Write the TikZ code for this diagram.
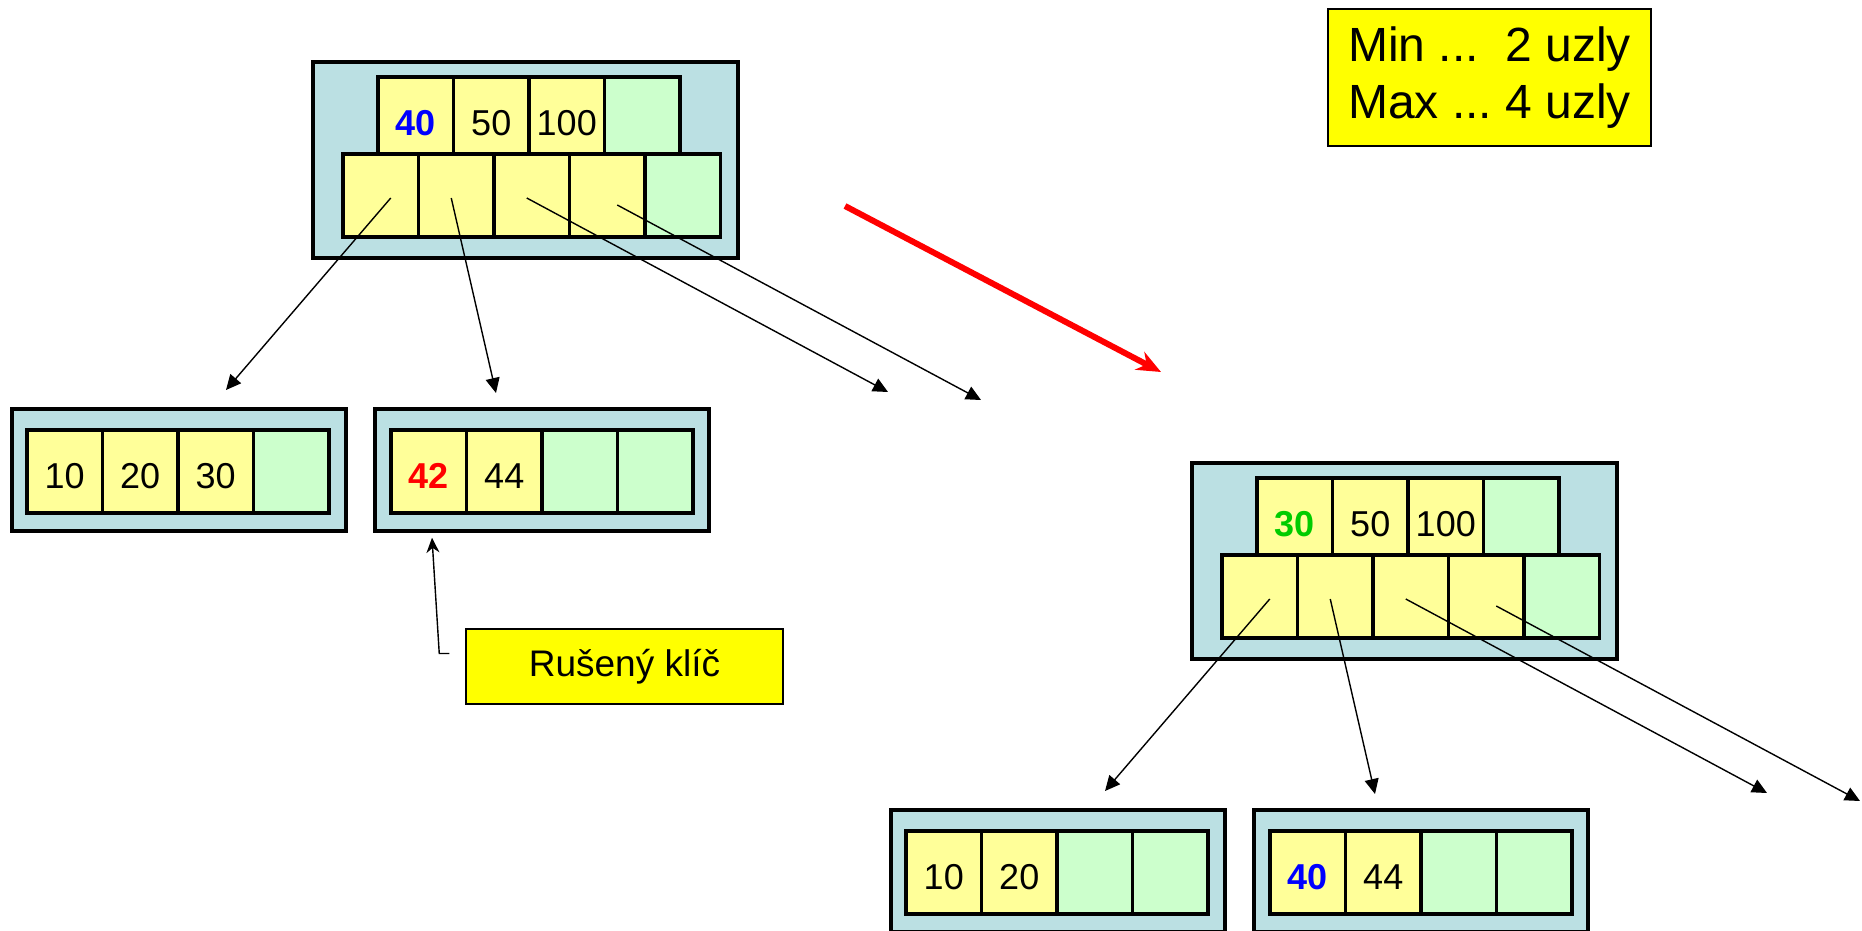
\documentclass[tikz,border=0pt]{standalone}
\usepackage{fontspec}
\setmainfont{Liberation Sans}
\usetikzlibrary{arrows.meta,positioning}
\definecolor{nodeblue}{RGB}{187,224,227}
\definecolor{cellyellow}{RGB}{255,255,153}
\definecolor{cellgreen}{RGB}{204,255,204}
\definecolor{noteyellow}{RGB}{255,255,0}
\definecolor{keyblue}{RGB}{0,0,255}
\definecolor{keyred}{RGB}{255,0,0}
\definecolor{keygreen}{RGB}{0,204,0}
\frenchspacing

\begin{document}
\begin{tikzpicture}[x=0.5pt, y=-0.5pt, font=\fontsize{18}{21}\selectfont,
	treebox/.style={draw, line width=1.75pt, fill=nodeblue, minimum width=212.5pt, minimum height=98pt},
	leafbox/.style={draw, line width=1.75pt, fill=nodeblue, minimum width=167pt, minimum height=61pt},
	cell/.style={draw, line width=1.65pt, fill=cellyellow, inner sep=0pt, outer sep=0pt, minimum width=37.75pt, minimum height=41.5pt, text height=17pt, text depth=0pt},
	keycell/.style={cell, minimum height=38.5pt, text height=20pt},
	free/.style={fill=cellgreen},
	child/.style={-{Triangle[length=7.5pt, width=7pt]}, line width=0.7pt},
	note/.style={draw, line width=0.75pt, fill=noteyellow}]
	\useasboundingbox (0,0) rectangle (1862,931);
	
	% before
	\node[treebox] (aroot) at (525.5,160) {};
	\node[keycell] (ak1) at (415.75,115.5) {\textcolor{keyblue}{\textbf{40}}};
	\node[keycell, right=0pt of ak1] (ak2) {50};
	\node[keycell, right=0pt of ak2] (ak3) {100};
	\node[keycell, free, right=0pt of ak3] (ak4) {};
	\node[cell] (ap1) at (380.75,195.5) {};
	\node[cell, right=0pt of ap1] (ap2) {};
	\node[cell, right=0pt of ap2] (ap3) {};
	\node[cell, right=0pt of ap3] (ap4) {};
	\node[cell, free, right=0pt of ap4] (ap5) {};
	
	\node[leafbox] (aleft) at (179,470) {};
	\node[cell] (al1) at (64.75,471.5) {10};
	\node[cell, right=0pt of al1] (al2) {20};
	\node[cell, right=0pt of al2] (al3) {30};
	\node[cell, free, right=0pt of al3] (al4) {};
	
	\node[leafbox] (aright) at (542,470) {};
	\node[cell] (ar1) at (428.75,471.5) {\textcolor{keyred}{\textbf{42}}};
	\node[cell, right=0pt of ar1] (ar2) {44};
	\node[cell, free, right=0pt of ar2] (ar3) {};
	\node[cell, free, right=0pt of ar3] (ar4) {};
	
	\coordinate (ae1) at (226,390);
	\coordinate (ae2) at (496,393);
	\coordinate (ae3) at (888,392);
	\coordinate (ae4) at (981,400);
	\draw[child] ([shift={(10,2.5)}]ap1.center) -- (ae1);
	\draw[child] ([shift={(-5,2.5)}]ap2.center) -- (ae2);
	\draw[child] ([shift={(-5,2.5)}]ap3.center) -- (ae3);
	\draw[child] ([shift={(10,9.5)}]ap4.center) -- (ae4);
	
	\node[note, minimum width=158.5pt, minimum height=37.5pt, font=\fontsize{18.5}{22}\selectfont] (deleted) at (624.5,666.5) {Rušený klíč};
	\draw[-{Stealth[length=7.5pt, width=6.5pt]}, line width=0.7pt] ([shift={(-16,-13)}]deleted.west) -- ++(-10,0) -- ([shift={(-110,5)}]aright.south);
	
	% after
	\begin{scope}[shift={(879,401)}]
	\node[treebox] (broot) at (525.5,160) {};
	\node[keycell] (bk1) at (415.75,115.5) {\textcolor{keygreen}{\textbf{30}}};
	\node[keycell, right=0pt of bk1] (bk2) {50};
	\node[keycell, right=0pt of bk2] (bk3) {100};
	\node[keycell, free, right=0pt of bk3] (bk4) {};
	\node[cell] (bp1) at (380.75,195.5) {};
	\node[cell, right=0pt of bp1] (bp2) {};
	\node[cell, right=0pt of bp2] (bp3) {};
	\node[cell, right=0pt of bp3] (bp4) {};
	\node[cell, free, right=0pt of bp4] (bp5) {};
	
	\node[leafbox] (bleft) at (179,470) {};
	\node[cell] (bl1) at (64.75,471.5) {10};
	\node[cell, right=0pt of bl1] (bl2) {20};
	\node[cell, free, right=0pt of bl2] (bl3) {};
	\node[cell, free, right=0pt of bl3] (bl4) {};
	
	\node[leafbox] (bright) at (542,470) {};
	\node[cell] (br1) at (428.75,471.5) {\textcolor{keyblue}{\textbf{40}}};
	\node[cell, right=0pt of br1] (br2) {44};
	\node[cell, free, right=0pt of br2] (br3) {};
	\node[cell, free, right=0pt of br3] (br4) {};
	
	\coordinate (be1) at (226,390);
	\coordinate (be2) at (496,393);
	\coordinate (be3) at (888,392);
	\coordinate (be4) at (981,400);
	\draw[child] ([shift={(10,2.5)}]bp1.center) -- (be1);
	\draw[child] ([shift={(-5,2.5)}]bp2.center) -- (be2);
	\draw[child] ([shift={(-5,2.5)}]bp3.center) -- (be3);
	\draw[child] ([shift={(10,9.5)}]bp4.center) -- (be4);
	\end{scope}
	
	% step
	\coordinate (go1) at (845,206);
	\coordinate (go2) at (1161,372);
	\draw[keyred, line width=3pt, -{Stealth[length=12pt, width=10pt]}] (go1) -- (go2);
	
	\node[note, minimum width=161.5pt, minimum height=68.5pt, align=left, font=\fontsize{24}{28.5}\selectfont] (limits) at (1489.5,77.5) {Min ...~ 2 uzly\\Max ... 4 uzly};
\end{tikzpicture}
\end{document}
